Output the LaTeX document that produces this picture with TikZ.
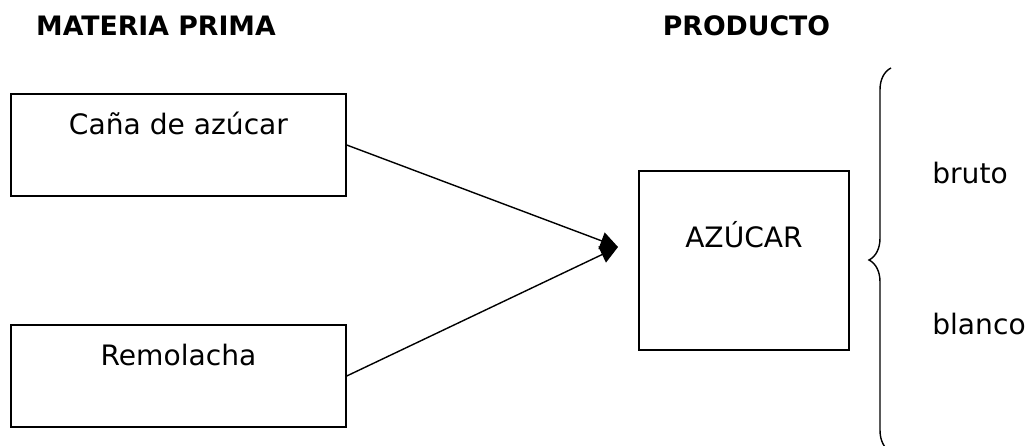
\documentclass[tikz,border=0pt]{standalone}
\usepackage{fontspec}
\setmainfont{DejaVu Sans}
\usetikzlibrary{positioning,arrows.meta,decorations.pathreplacing}

\begin{document}
\begin{tikzpicture}[
  x=0.025cm, y=-0.025cm,
  box/.style={draw, line width=1pt, minimum width=8.375cm, minimum height=2.55cm, inner sep=0pt},
  prod/.style={draw, line width=1pt, minimum width=5.25cm, minimum height=4.475cm, inner sep=0pt},
  txt/.style={inner sep=0pt, font=\fontsize{20}{24}\selectfont},
  head/.style={inner sep=0pt, font=\fontsize{19}{23}\selectfont\bfseries},
  arrow/.style={-{Triangle[length=4.4mm, width=4.4mm]}, line width=1pt}
]
  \clip (0,0) rectangle (1027,446);
  \useasboundingbox (0,0) rectangle (1027,446);

  \node[head, anchor=base] (hmat) at (156,36) {MATERIA PRIMA};
  \node[head, anchor=base] (hprod) at (746.5,36) {PRODUCTO};

  \node[box] (cana) at (178.5,145) {};
  \node[box] (remo) at (178.5,376) {};
  \node[prod] (azucar) at (744,260.5) {};
  \node[txt, anchor=base] (canatxt) at (178.5,135) {Caña de azúcar};
  \node[txt, anchor=base] (remotxt) at (178.5,365) {Remolacha};
  \node[txt, anchor=base] (azucartxt) at (744,247) {AZÚCAR};

  \coordinate (tip) at (618,247);
  \draw[arrow] (cana.east) -- (tip);
  \draw[arrow] (remo.east) -- (tip);

  % brace towards the two kinds of sugar
  \coordinate (bbot) at (891,452);
  \coordinate (btop) at (891,68);
  \draw[line width=1pt, decorate, decoration={brace, amplitude=0.55cm}] (bbot) -- (btop);

  \node[txt, anchor=base west] (bruto) at (932,184) {bruto};
  \node[txt, anchor=base west] (blanco) at (932,334) {blanco};
\end{tikzpicture}
\end{document}
